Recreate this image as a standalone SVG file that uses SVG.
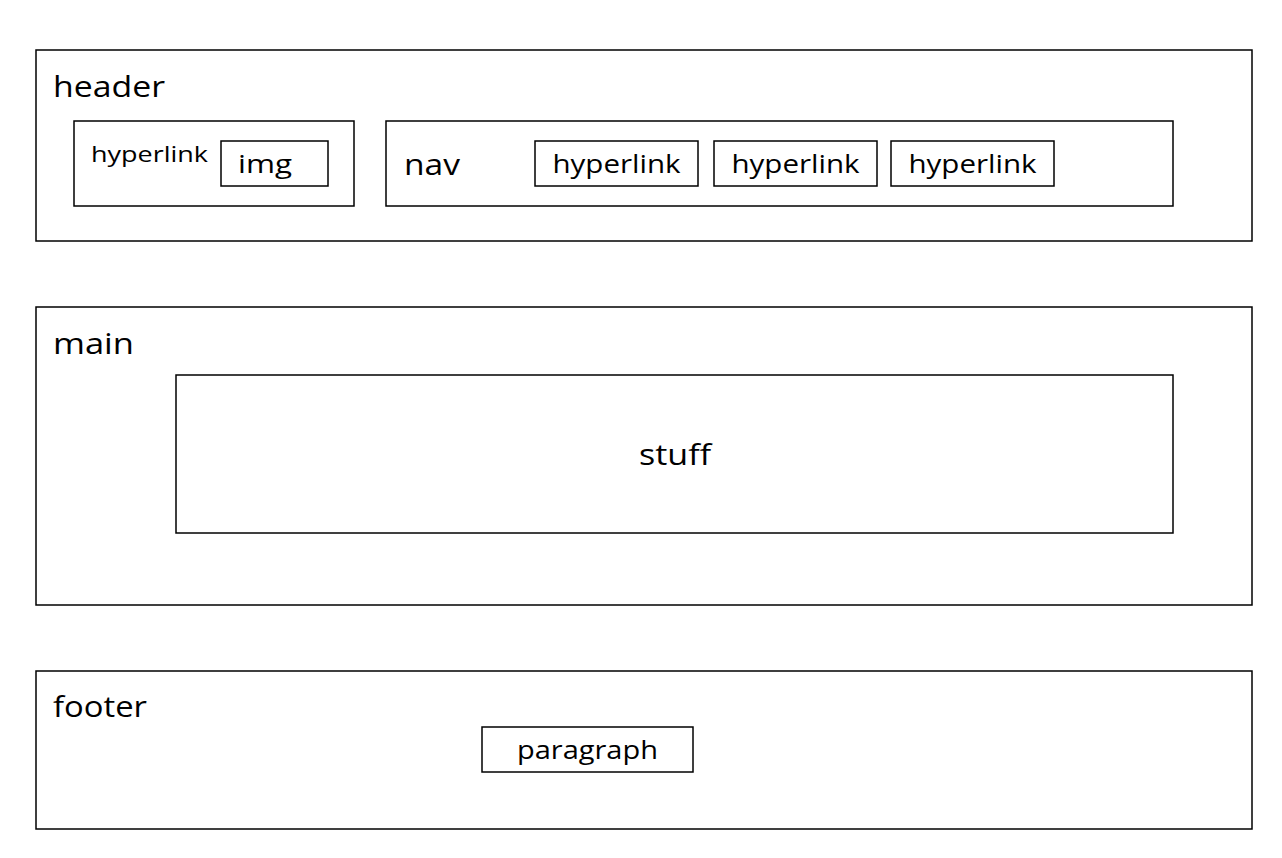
<svg xmlns="http://www.w3.org/2000/svg" width="1282" height="858" viewBox="0 0 1282 858">
<style>
rect{fill:#fff;stroke:#000;stroke-width:1.5}
text{font-family:"Open Sans","Noto Sans",sans-serif;fill:#000}
.l{font-size:30px}
.m{font-size:26px}
.s{font-size:22px}
.c{text-anchor:middle}
</style>
<rect x="0" y="0" width="1282" height="858" style="stroke:none"/>
<g id="header">
<rect x="36" y="50" width="1216" height="191"/>
<text class="l" x="53" y="97" textLength="112" lengthAdjust="spacingAndGlyphs">header</text>
</g>
<g id="logo-link">
<rect x="74" y="121" width="280" height="85"/>
<text class="s" x="91" y="162" textLength="117" lengthAdjust="spacingAndGlyphs">hyperlink</text>
</g>
<g id="img">
<rect x="221" y="141" width="107" height="45"/>
<text class="m" x="238" y="173" textLength="54" lengthAdjust="spacingAndGlyphs">img</text>
</g>
<g id="nav">
<rect x="386" y="121" width="787" height="85"/>
<text class="l" x="404" y="175" textLength="56" lengthAdjust="spacingAndGlyphs">nav</text>
</g>
<g id="nav-link-1">
<rect x="535" y="141" width="163" height="45"/>
<text class="m c" x="616.5" y="173" textLength="128" lengthAdjust="spacingAndGlyphs">hyperlink</text>
</g>
<g id="nav-link-2">
<rect x="714" y="141" width="163" height="45"/>
<text class="m c" x="795.5" y="173" textLength="128" lengthAdjust="spacingAndGlyphs">hyperlink</text>
</g>
<g id="nav-link-3">
<rect x="891" y="141" width="163" height="45"/>
<text class="m c" x="972.5" y="173" textLength="128" lengthAdjust="spacingAndGlyphs">hyperlink</text>
</g>
<g id="main">
<rect x="36" y="307" width="1216" height="298"/>
<text class="l" x="53" y="354" textLength="81" lengthAdjust="spacingAndGlyphs">main</text>
</g>
<g id="stuff">
<rect x="176" y="375" width="997" height="158"/>
<text class="l c" x="675" y="465" textLength="72" lengthAdjust="spacingAndGlyphs">stuff</text>
</g>
<g id="footer">
<rect x="36" y="671" width="1216" height="158"/>
<text class="l" x="53" y="717" textLength="94" lengthAdjust="spacingAndGlyphs">footer</text>
</g>
<g id="paragraph">
<rect x="482" y="727" width="211" height="45"/>
<text class="m c" x="587.5" y="759" textLength="141" lengthAdjust="spacingAndGlyphs">paragraph</text>
</g>
<g id="connectors"></g>
</svg>
